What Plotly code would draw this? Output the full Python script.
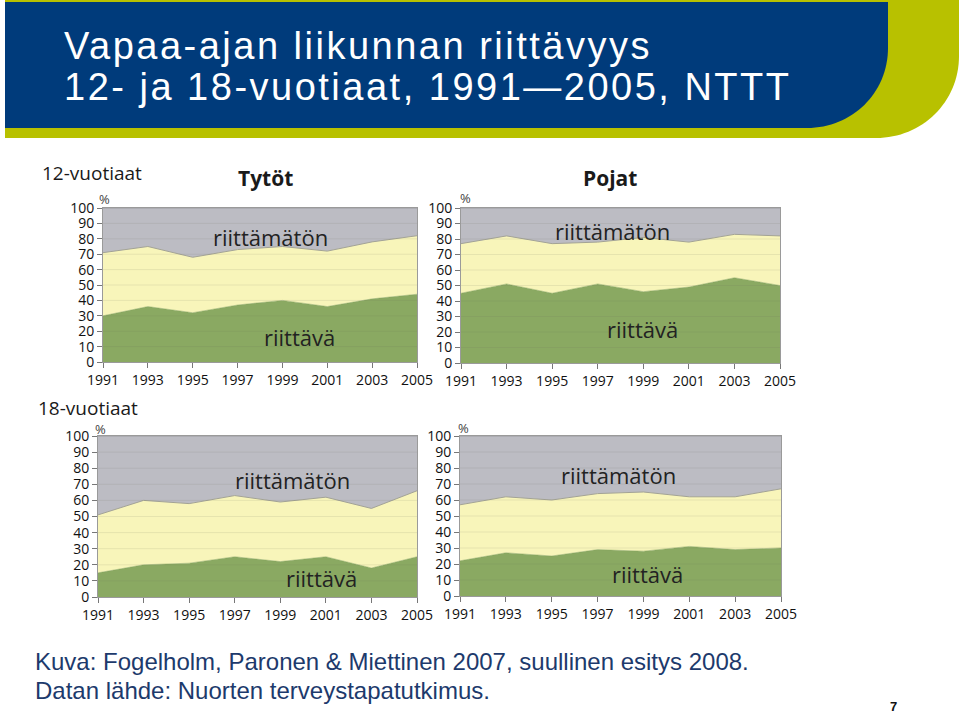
import plotly.graph_objects as go

W, H = 960, 713

years = [1991, 1993, 1995, 1997, 1999, 2001, 2003, 2005]
y_ticks = [0, 10, 20, 30, 40, 50, 60, 70, 80, 90, 100]

# 12-vuotiaat, tytöt (% shares)
g12_riittava = [30, 36, 32, 37, 40, 36, 41, 44]
g12_keski = [41, 39, 36, 36, 35, 36, 37, 38]
g12_riittamaton = [29, 25, 32, 27, 25, 28, 22, 18]
# 12-vuotiaat, pojat
b12_riittava = [45, 51, 45, 51, 46, 49, 55, 50]
b12_keski = [32, 31, 32, 27, 35, 29, 28, 32]
b12_riittamaton = [23, 18, 23, 22, 19, 22, 17, 18]
# 18-vuotiaat, tytöt
g18_riittava = [15, 20, 21, 25, 22, 25, 18, 25]
g18_keski = [36, 40, 37, 38, 37, 37, 37, 41]
g18_riittamaton = [49, 40, 42, 37, 41, 38, 45, 34]
# 18-vuotiaat, pojat
b18_riittava = [22, 27, 25, 29, 28, 31, 29, 30]
b18_keski = [35, 35, 35, 35, 37, 31, 33, 37]
b18_riittamaton = [43, 38, 40, 36, 35, 38, 38, 33]

panels = [
    (g12_riittava, g12_keski, g12_riittamaton),
    (b12_riittava, b12_keski, b12_riittamaton),
    (g18_riittava, g18_keski, g18_riittamaton),
    (b18_riittava, b18_keski, b18_riittamaton),
]

# plot-area boxes in pixels: (x0, x1, ytop, ybottom)
boxes = [(103, 417, 208, 362), (461, 780, 208, 363),
         (98, 417, 436, 597), (460, 781, 436, 596)]


def px(x, y):
    return x / W, 1 - y / H


GREEN = "#8aa962"
YELLOW = "#f8f5ba"
GRAY = "#bcbcc3"
FONT = "Open Sans"

fig = go.Figure()
layout = dict(width=W, height=H, margin=dict(l=0, r=0, t=0, b=0, pad=0, autoexpand=False),
              autosize=False,
              paper_bgcolor="white", plot_bgcolor="white", showlegend=False,
              font=dict(family=FONT, color="#222"))
shapes = []
annotations = []

for i, (vals, box) in enumerate(zip(panels, boxes)):
    n = i + 1
    xa = "x" if n == 1 else f"x{n}"
    ya = "y" if n == 1 else f"y{n}"
    r, k, m = vals
    for series, fc, lc, lw in [(r, GREEN, "#82a05a", 0.5),
                               (k, YELLOW, "#a3a394", 1),
                               (m, GRAY, "#9c9ca2", 1)]:
        fig.add_trace(go.Scatter(x=years, y=series, xaxis=xa, yaxis=ya,
                                 stackgroup=f"s{n}", mode="lines",
                                 line=dict(color=lc, width=lw),
                                 fillcolor=fc, hoverinfo="skip"))
    x0, x1, yt, yb = box
    axis_common = dict(showline=True, linecolor="#9a9a9a", linewidth=1,
                       mirror=True, ticks="outside", ticklen=5,
                       tickcolor="#777", automargin=False,
                       zeroline=False, showgrid=False)
    layout["xaxis" if n == 1 else f"xaxis{n}"] = dict(
        domain=[x0 / W, x1 / W], anchor=ya, range=[1991, 2005],
        tickvals=years, tickfont=dict(family=FONT, size=14, color="#111"),
        **axis_common)
    layout["yaxis" if n == 1 else f"yaxis{n}"] = dict(
        domain=[1 - yb / H, 1 - yt / H], anchor=xa, range=[0, 100],
        tickvals=y_ticks, tickfont=dict(family=FONT, size=14, color="#111"),
        **axis_common)
    for v in y_ticks[1:-1]:
        shapes.append(dict(type="line", xref=f"{xa} domain", yref=ya,
                           x0=0, x1=1, y0=v, y1=v, layer="above",
                           line=dict(color="rgba(110,110,90,0.12)", width=1)))


def P(x, y):
    a, b = px(x, y)
    return f"{a:.5f},{b:.5f}"


green_path = (f"M {P(5,0)} L {P(959,0)} L {P(959,56)} "
              f"C {P(959,102)} {P(922,138)} {P(876,138)} L {P(5,138)} Z")
blue_path = (f"M {P(5,2)} L {P(888,2)} L {P(888,48)} "
             f"C {P(888,93)} {P(852,128)} {P(807,128)} L {P(5,128)} Z")
shapes.insert(0, dict(type="path", xref="paper", yref="paper", path=green_path,
                      fillcolor="#b8c100", line=dict(width=0), layer="below"))
shapes.insert(1, dict(type="path", xref="paper", yref="paper", path=blue_path,
                      fillcolor="#003b7b", line=dict(width=0), layer="below"))


def ann(text, x, y, size, color="#222", family=FONT, xanchor="center",
        yanchor="middle", bold=False):
    ax, ay = px(x, y)
    annotations.append(dict(text=text, x=ax, y=ay, xref="paper", yref="paper",
                            xanchor=xanchor, yanchor=yanchor, showarrow=False,
                            align="left",
                            font=dict(family=family, size=size, color=color,
                                      weight="bold" if bold else "normal")))


ann("Vapaa-ajan liikunnan riittävyys", 62, 46, 38, "white",
    "Liberation Sans, Arial", xanchor="left")
ann("12- ja 18-vuotiaat, 1991—2005, NTTT", 62, 87, 38, "white",
    "Liberation Sans, Arial", xanchor="left")

ann("12-vuotiaat", 40, 173, 19, "#1a1a1a", xanchor="left")
ann("18-vuotiaat", 36, 408, 19, "#1a1a1a", xanchor="left")
ann("Tytöt", 265, 178, 21, "#1a1a1a", bold=True)
ann("Pojat", 610, 178, 21, "#1a1a1a", bold=True)

for (x, y) in [(104, 199), (465, 198), (100, 429), (463, 428)]:
    ann("%", x, y, 13, "#444")

labels = [("riittämätön", 270, 237), ("riittävä", 299, 337),
          ("riittämätön", 612, 231), ("riittävä", 642, 329),
          ("riittämätön", 292, 480), ("riittävä", 321, 578),
          ("riittämätön", 618, 475), ("riittävä", 647, 574)]
for t, x, y in labels:
    ann(t, x, y, 22, "#222")

ann("Kuva: Fogelholm, Paronen & Miettinen 2007, suullinen esitys 2008.",
    33, 661, 24, "#1d3a6c", "Liberation Sans, Arial", xanchor="left")
ann("Datan lähde: Nuorten terveystapatutkimus.",
    33, 690, 24, "#1d3a6c", "Liberation Sans, Arial", xanchor="left")
ann("7", 893, 706, 13, "#111", "Liberation Sans, Arial", bold=True)

layout["shapes"] = shapes
layout["annotations"] = annotations
fig.update_layout(**layout)

post = """
document.body.style.margin='0';
document.querySelectorAll('text.annotation-text').forEach(function(t){
  var s=t.textContent;
  if(s.indexOf('Vapaa')===0 || s.indexOf('12- ja')===0){ t.style.letterSpacing='2.5px'; }
});
"""
fig.write_html("out.html", post_script=post, config={"displayModeBar": False})
